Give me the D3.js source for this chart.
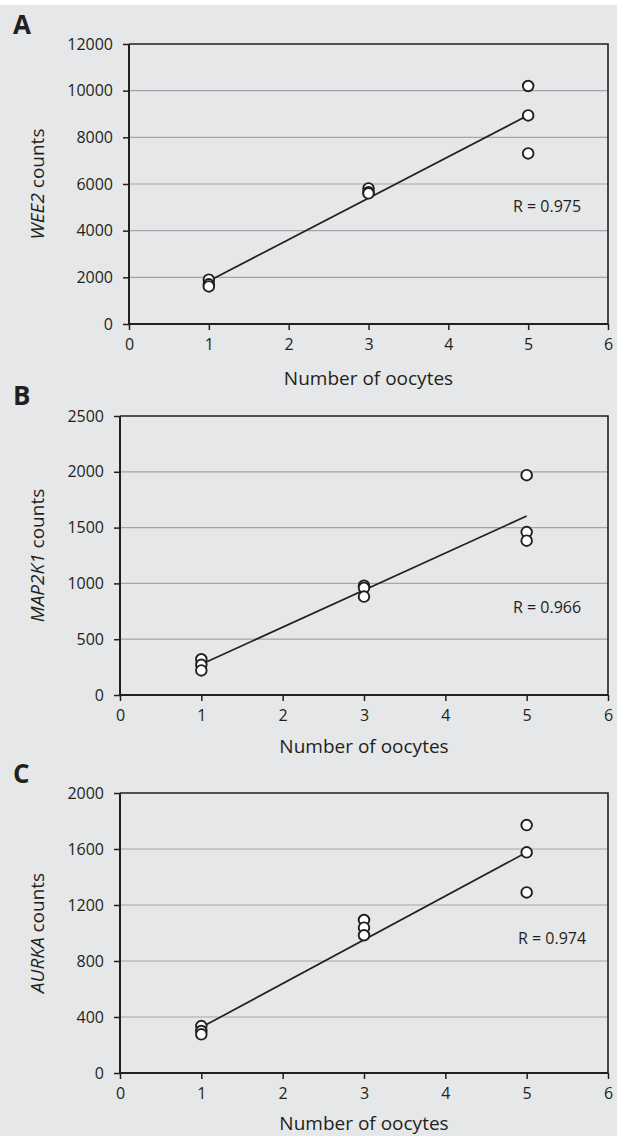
<!DOCTYPE html>
<html>
<head>
<meta charset="utf-8">
<script src="https://cdn.jsdelivr.net/npm/d3@7"></script>
<style>
  html, body { margin: 0; padding: 0; background: #ffffff; }
  svg text { font-family: "Open Sans", sans-serif; fill: #231f20; }
</style>
</head>
<body>
<div id="chart"></div>
<script>
// ===== DATA =====
const xTicks = [0, 1, 2, 3, 4, 5, 6];
const oocytes = [1, 1, 1, 3, 3, 3, 5, 5, 5];
const fitX = [1, 5];

// A: WEE2
const wee2Counts = [1900, 1700, 1610, 5810, 5650, 5600, 10200, 8940, 7310];
const wee2Fit = [1843, 8943];
const wee2Ticks = [0, 2000, 4000, 6000, 8000, 10000, 12000];

// B: MAP2K1
const map2k1Counts = [320, 270, 220, 980, 960, 882, 1970, 1460, 1383];
const map2k1Fit = [275, 1604];
const map2k1Ticks = [0, 500, 1000, 1500, 2000, 2500];

// C: AURKA
const aurkaCounts = [335, 300, 276, 1093, 1038, 984, 1771, 1576, 1290];
const aurkaFit = [326, 1576];
const aurkaTicks = [0, 400, 800, 1200, 1600, 2000];

const panelLetters = ["A", "B", "C"];
const geneNames = ["WEE2", "MAP2K1", "AURKA"];
const rLabels = ["R = 0.975", "R = 0.966", "R = 0.974"];
const xTitle = "Number of oocytes";

// ===== LAYOUT =====
const W = 617, H = 1136;
const layouts = [
  { left: 129, right: 608, top: 44,  bottom: 324,  letterY: 34,  titleY: 385,  rX: 513, rY: 212 },
  { left: 120, right: 608, top: 416, bottom: 695,  letterY: 405, titleY: 753,  rX: 513, rY: 613 },
  { left: 120, right: 608, top: 793, bottom: 1073, letterY: 783, titleY: 1130, rX: 518, rY: 944 }
];
const panels = [
  { counts: wee2Counts, fit: wee2Fit, ticks: wee2Ticks },
  { counts: map2k1Counts, fit: map2k1Fit, ticks: map2k1Ticks },
  { counts: aurkaCounts, fit: aurkaFit, ticks: aurkaTicks }
];

const svg = d3.select("#chart").append("svg")
  .attr("width", W).attr("height", H);

// grey background
svg.append("rect")
  .attr("x", 0).attr("y", 5)
  .attr("width", W).attr("height", H - 5)
  .attr("fill", "#e6e7e8");

panels.forEach((p, i) => {
  const L = layouts[i];
  const yTicks = p.ticks;
  const x = d3.scaleLinear().domain([0, 6]).range([L.left, L.right]);
  const y = d3.scaleLinear().domain([0, d3.max(yTicks)]).range([L.bottom, L.top]);
  const g = svg.append("g");

  // gridlines
  g.selectAll(".grid")
    .data(yTicks.slice(1, -1))
    .enter().append("line")
    .attr("x1", L.left).attr("x2", L.right)
    .attr("y1", d => y(d)).attr("y2", d => y(d))
    .attr("stroke", "#a3a5a8").attr("stroke-width", 1.2);

  // top and right frame
  g.append("path")
    .attr("d", `M${L.left},${L.top}H${L.right}V${L.bottom}`)
    .attr("fill", "none").attr("stroke", "#231f20").attr("stroke-width", 1.6);

  // y axis
  const yAxis = g.append("g")
    .attr("transform", `translate(${L.left},0)`)
    .call(d3.axisLeft(y).tickValues(yTicks).tickSize(6).tickPadding(10).tickFormat(d3.format("d")));
  yAxis.select(".domain").attr("stroke", "#231f20").attr("stroke-width", 2)
    .attr("d", `M0,${L.top}V${L.bottom}`);
  yAxis.selectAll(".tick line").attr("stroke", "#231f20").attr("stroke-width", 1.5);
  yAxis.selectAll(".tick text")
    .attr("font-family", "Open Sans, sans-serif").attr("font-size", 16)
    .attr("fill", "#231f20");

  // x axis
  const xAxis = g.append("g")
    .attr("transform", `translate(0,${L.bottom})`)
    .call(d3.axisBottom(x).tickValues(xTicks).tickSize(6).tickPadding(9).tickFormat(d3.format("d")));
  xAxis.select(".domain").attr("stroke", "#231f20").attr("stroke-width", 2)
    .attr("d", `M${L.left},0H${L.right}`);
  xAxis.selectAll(".tick line").attr("stroke", "#231f20").attr("stroke-width", 1.5);
  xAxis.selectAll(".tick text")
    .attr("font-family", "Open Sans, sans-serif").attr("font-size", 16)
    .attr("fill", "#231f20");

  // regression line
  const line = d3.line().x(d => x(d[0])).y(d => y(d[1]));
  g.append("path")
    .attr("d", line(fitX.map((v, k) => [v, p.fit[k]])))
    .attr("fill", "none").attr("stroke", "#231f20").attr("stroke-width", 1.7);

  // points
  g.selectAll(".pt")
    .data(p.counts)
    .enter().append("circle")
    .attr("cx", (d, k) => x(oocytes[k]))
    .attr("cy", d => y(d))
    .attr("r", 5.3)
    .attr("fill", "#ffffff")
    .attr("stroke", "#231f20").attr("stroke-width", 1.9);

  // R label
  g.append("text")
    .attr("x", L.rX).attr("y", L.rY)
    .attr("font-size", 16)
    .text(rLabels[i]);

  // panel letter
  g.append("text")
    .attr("x", 13).attr("y", L.letterY)
    .attr("font-family", "Liberation Sans, Arial, sans-serif")
    .attr("font-weight", "bold").attr("font-size", 26)
    .text(panelLetters[i]);

  // x title
  g.append("text")
    .attr("x", (L.left + L.right) / 2).attr("y", L.titleY)
    .attr("text-anchor", "middle").attr("font-size", 19)
    .text(xTitle);

  // y title
  const yt = g.append("text")
    .attr("transform", `translate(44,${(L.top + L.bottom) / 2}) rotate(-90)`)
    .attr("text-anchor", "middle").attr("font-size", 19);
  yt.append("tspan").attr("font-style", "italic").text(geneNames[i]);
  yt.append("tspan").text(" counts");
});
</script>
</body>
</html>
